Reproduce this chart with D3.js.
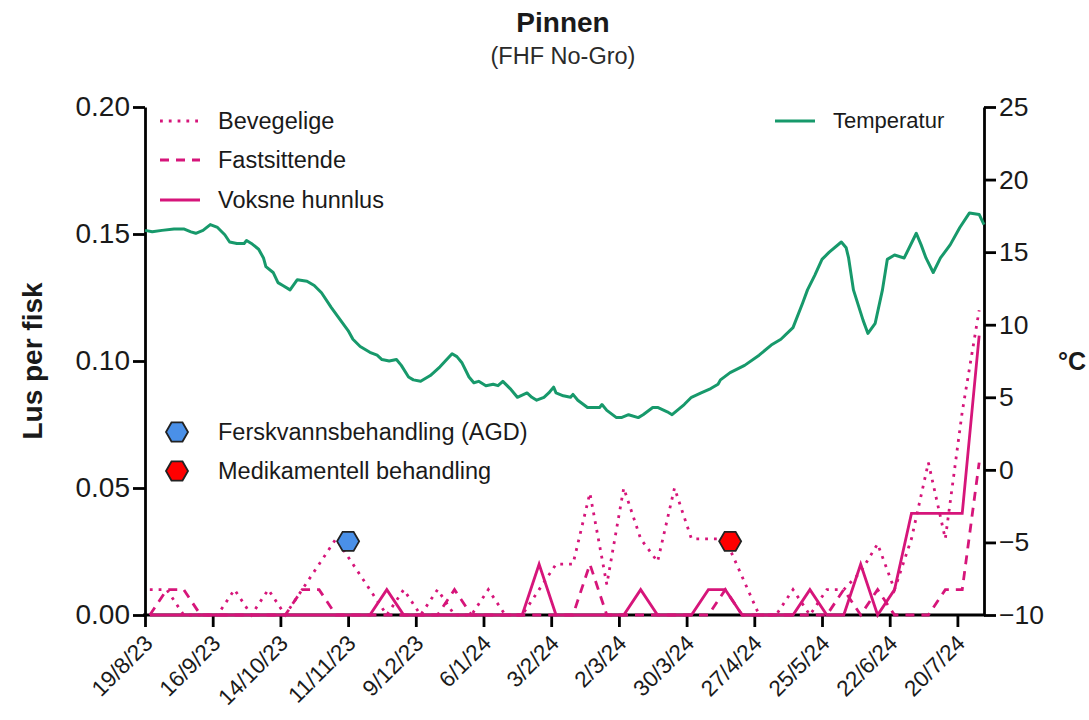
<!DOCTYPE html>
<html><head><meta charset="utf-8">
<script src="https://cdn.jsdelivr.net/npm/d3@7"></script>
<style>
html,body{margin:0;padding:0;background:#fff;}
svg{display:block;font-family:"Liberation Sans",Arial,sans-serif;}
</style></head>
<body><svg id="c" width="1089" height="720"></svg>
<script>
// ---------- DATA ----------
const title = "Pinnen";
const subtitle = "(FHF No-Gro)";
const startDate = "2023-08-19";
const endDate = "2024-07-31";
const tickLabels = ["19/8/23","16/9/23","14/10/23","11/11/23","9/12/23","6/1/24","3/2/24","2/3/24","30/3/24","27/4/24","25/5/24","22/6/24","20/7/24"];
const liceFirstDate = "2023-08-21"; // weekly counts
const bevegelige = [0.01,0.01,0,0,0,0.01,0,0.01,0,0.01,0.02,0.03,0.02,0.01,0,0.01,0,0.01,0,0,0.01,0,0,0.01,0.02,0.02,0.048,0.012,0.05,0.03,0.021,0.05,0.03,0.03,0.03,0.015,0,0,0.01,0,0.01,0.01,0.017,0.028,0.01,0.03,0.06,0.03,0.08,0.12];
const fastsittende = [0,0.01,0.01,0,0,0,0,0,0,0.01,0.01,0,0,0,0,0,0,0,0.01,0,0,0,0,0,0,0,0.02,0,0,0,0,0,0,0,0.01,0,0,0,0,0,0,0.01,0,0.01,0,0,0,0.01,0.01,0.06];
const voksneHunnlus = [0,0,0,0,0,0,0,0,0,0,0,0,0,0,0.01,0,0,0,0,0,0,0,0,0.02,0,0,0,0,0,0.01,0,0,0,0.01,0.01,0,0,0,0,0.01,0,0,0.02,0,0.01,0.04,0.04,0.04,0.04,0.11];
// temperature: days since startDate, °C
const tempDays = [0,3,7,12,16,19,21,24,27,30,33,35,38,41,42,44,47,49,50,53,55,57,60,63,67,70,73,77,80,84,86,89,93,96,98,101,104,106,109,111,114,118,122,127,129,131,134,136,138,141,144,146,148,151,154,158,160,162,165,167,169,170,173,176,177,179,183,188,189,191,195,197,200,204,206,210,212,216,218,223,226,230,234,237,238,242,248,254,259,263,268,272,274,277,280,283,288,290,291,293,297,299,302,305,307,310,314,319,321,323,326,329,333,337,341,345,347];
const tempValues = [16.5,16.4,16.5,16.6,16.6,16.4,16.3,16.5,16.9,16.7,16.2,15.7,15.6,15.6,15.8,15.6,15.2,14.6,14.0,13.6,12.9,12.7,12.4,13.1,13.0,12.7,12.2,11.2,10.5,9.6,9.0,8.5,8.1,7.9,7.6,7.5,7.6,7.2,6.4,6.2,6.1,6.5,7.1,8.0,7.8,7.4,6.4,6.0,6.1,5.8,5.9,5.8,6.1,5.6,5.0,5.3,5.0,4.8,5.0,5.3,5.7,5.3,5.1,5.0,5.2,4.8,4.3,4.3,4.5,4.1,3.6,3.6,3.8,3.6,3.8,4.3,4.3,4.0,3.8,4.5,5.0,5.3,5.6,5.9,6.2,6.7,7.2,7.9,8.6,9.0,9.8,11.5,12.4,13.4,14.5,15.0,15.7,15.3,14.6,12.4,10.3,9.4,10.1,12.4,14.5,14.8,14.6,16.3,15.5,14.6,13.6,14.6,15.5,16.7,17.7,17.6,16.9];
const treatmentDates = ["2023-11-11","2024-04-17"];
const treatmentValues = [0.029,0.029];
const treatmentNames = ["Ferskvannsbehandling (AGD)","Medikamentell behandling"];
const liceNames = ["Bevegelige","Fastsittende","Voksne hunnlus"];
const leftTicks = [0,0.05,0.10,0.15,0.20];
const rightTicks = [-10,-5,0,5,10,15,20,25];

// ---------- CHART ----------
const svg = d3.select("#c");
const parse = d3.utcParse("%Y-%m-%d");
const t0 = parse(startDate), t1 = parse(endDate);
const DAY = 864e5;
const x = d3.scaleUtc().domain([t0, t1]).range([145, 984]);
const y = d3.scaleLinear().domain([0, 0.2]).range([615, 107]);
const yT = d3.scaleLinear().domain([-10, 25]).range([615, 107]);
const pink = "#d6157a", green = "#17996b", txt = "#1a1a1a";

svg.append("text").attr("x",563).attr("y",32).attr("text-anchor","middle")
  .attr("font-size",28).attr("font-weight","bold").attr("fill",txt).text(title);
svg.append("text").attr("x",563).attr("y",64).attr("text-anchor","middle")
  .attr("font-size",23.5).attr("fill","#2a2a2a").text(subtitle);

// axes
const tickDates = tickLabels.map((_,i)=>new Date(t0.getTime()+i*28*DAY));
const xAxis = d3.axisBottom(x).tickValues(tickDates).tickFormat((d,i)=>tickLabels[i]).tickSize(12).tickSizeOuter(0);
const gx = svg.append("g").attr("transform","translate(0,615)").call(xAxis);
gx.selectAll("text").attr("font-size",22.5).attr("fill",txt)
  .attr("text-anchor","end").attr("x",0).attr("y",0).attr("dy","0.35em")
  .attr("transform","translate(3,24) rotate(-45)");
const yAxis = d3.axisLeft(y).tickValues(leftTicks).tickFormat(d3.format(".2f")).tickSize(12).tickSizeOuter(0);
const gy = svg.append("g").attr("transform","translate(145,0)").call(yAxis);
gy.selectAll("text").attr("font-size",28).attr("fill",txt).attr("x",-15);
const yAxisR = d3.axisRight(yT).tickValues(rightTicks).tickFormat(d3.format("d")).tickSize(12).tickSizeOuter(0);
const gr = svg.append("g").attr("transform","translate(984,0)").call(yAxisR);
gr.selectAll("text").attr("font-size",26.5).attr("fill",txt).attr("x",15);
[gx,gy,gr].forEach(g=>{g.select(".domain").attr("stroke","#000").attr("stroke-width",2.8);
  g.selectAll(".tick line").attr("stroke","#000").attr("stroke-width",2.8);});
gx.select(".domain").attr("d","M143,0H985");

svg.append("text").attr("transform","translate(42,361) rotate(-90)").attr("text-anchor","middle")
  .attr("font-size",28).attr("font-weight","bold").attr("fill",txt).text("Lus per fisk");
svg.append("text").attr("x",1072).attr("y",370).attr("text-anchor","middle")
  .attr("font-size",25).attr("font-weight","bold").attr("fill",txt).text("°C");

// temperature
const tempData = tempDays.map((d,i)=>({date:new Date(t0.getTime()+d*DAY), v:tempValues[i]}));
svg.append("path").datum(tempData).attr("fill","none").attr("stroke",green).attr("stroke-width",3)
  .attr("stroke-linejoin","round")
  .attr("d", d3.line().x(d=>x(d.date)).y(d=>yT(d.v)));

// lice
const lf = parse(liceFirstDate);
const liceDates = bevegelige.map((_,i)=>new Date(lf.getTime()+i*7*DAY));
const series = [
  {vals:bevegelige, dash:"2.8,6"},
  {vals:fastsittende, dash:"9,7"},
  {vals:voksneHunnlus, dash:null}
];
const lineL = d3.line().x((d,i)=>x(liceDates[i])).y(d=>y(d));
series.forEach(s=>{
  const p = svg.append("path").datum(s.vals).attr("fill","none").attr("stroke",pink)
    .attr("stroke-width",2.8).attr("d",lineL);
  if(s.dash) p.attr("stroke-dasharray",s.dash);
});

// hexagon helper
function hex(cx,cy,r){
  const pts = d3.range(6).map(k=>[cx+r*Math.cos(k*Math.PI/3), cy+r*Math.sin(k*Math.PI/3)]);
  return "M"+pts.map(p=>p.join(",")).join("L")+"Z";
}
const hexFill = ["#4a90e8","#ff0000"];
treatmentDates.forEach((d,i)=>{
  svg.append("path").attr("d",hex(x(parse(d)),y(treatmentValues[i]),11))
    .attr("fill",hexFill[i]).attr("stroke","#222").attr("stroke-width",1.8);
});

// legend
const legY = [121,160,200];
series.forEach((s,i)=>{
  const l = svg.append("line").attr("x1",160).attr("x2",200).attr("y1",legY[i]).attr("y2",legY[i])
    .attr("stroke",pink).attr("stroke-width",2.8);
  if(s.dash) l.attr("stroke-dasharray", s.dash);
  svg.append("text").attr("x",218).attr("y",legY[i]+8).attr("font-size",23.5).attr("fill",txt).text(liceNames[i]);
});
svg.append("line").attr("x1",775).attr("x2",815).attr("y1",121).attr("y2",121).attr("stroke",green).attr("stroke-width",3);
svg.append("text").attr("x",833).attr("y",128).attr("font-size",22).attr("fill",txt).text("Temperatur");
const hexLegY = [432,471];
treatmentNames.forEach((n,i)=>{
  svg.append("path").attr("d",hex(177,hexLegY[i],11)).attr("fill",hexFill[i]).attr("stroke","#222").attr("stroke-width",1.8);
  svg.append("text").attr("x",218).attr("y",hexLegY[i]+8).attr("font-size",23.5).attr("fill",txt).text(n);
});
</script></body></html>
